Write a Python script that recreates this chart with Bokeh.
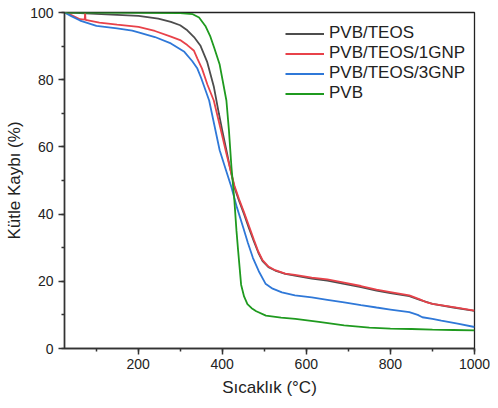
from bokeh.plotting import figure
from bokeh.models import Legend, LegendItem, SingleIntervalTicker, Range1d
from bokeh.embed import file_html
from bokeh.resources import INLINE

# ---- data ----
temp_teos = [25, 50, 100, 150, 201, 248, 278, 300, 317, 333, 348, 364, 380, 392, 400, 410, 420, 429,
             440, 452, 463, 475, 486, 496, 510, 526, 550, 573, 613, 650, 690, 730, 767, 800, 845,
             870, 900, 950, 1000]
pvb_teos = [100, 99.9, 99.6, 99.3, 99.0, 98.2, 97.2, 96.2, 94.7, 92.7, 90.2, 85.4, 78.0, 70.0, 65.0,
            59.0, 53.0, 48.0, 44.0, 40.0, 36.0, 32.0, 28.5, 26.0, 24.2, 23.2, 22.2, 21.7, 20.8, 20.2,
            19.2, 18.3, 17.2, 16.5, 15.6, 14.5, 13.3, 12.2, 11.2]

temp_1gnp = [25, 40, 62, 73, 74, 75, 108, 150, 201, 240, 278, 300, 317, 333, 341, 352, 365, 380, 395,
             410, 420, 429, 440, 452, 465, 475, 486, 496, 510, 526, 550, 573, 613, 650, 690, 730, 767,
             800, 845, 870, 883, 900, 950, 1000]
pvb_teos_1gnp = [100, 99.3, 98.0, 97.9, 99.8, 97.8, 97.0, 96.4, 95.7, 94.5, 92.8, 91.8, 90.3, 88.6,
                 86.3, 83.3, 78.5, 73.8, 66.0, 58.0, 53.0, 48.5, 44.5, 40.5, 36.0, 32.5, 28.8, 26.3,
                 24.4, 23.3, 22.3, 21.9, 21.1, 20.6, 19.6, 18.6, 17.5, 16.8, 15.8, 14.6, 13.9, 13.3,
                 12.3, 11.3]

temp_3gnp = [25, 40, 62, 101, 150, 186, 201, 240, 278, 310, 329, 341, 350, 369, 394, 410, 422, 435,
             450, 461, 473, 487, 503, 520, 542, 573, 613, 650, 690, 730, 767, 800, 845, 865, 876, 900,
             921, 960, 1000]
pvb_teos_3gnp = [100, 99.0, 97.6, 96.0, 95.3, 94.6, 94.1, 92.7, 90.8, 88.3, 85.5, 83.3, 80.5, 73.8,
                 59.0, 52.7, 48.0, 42.0, 36.0, 31.5, 27.0, 23.0, 19.3, 17.8, 16.7, 15.8, 15.2, 14.5,
                 13.7, 12.9, 12.2, 11.6, 10.8, 10.0, 9.3, 8.8, 8.3, 7.4, 6.4]

temp_pvb = [25, 100, 200, 300, 330, 345, 360, 372, 381, 394, 403, 410, 416, 422, 429, 434, 438, 445,
            452, 460, 470, 481, 504, 540, 574, 630, 690, 750, 800, 850, 900, 950, 1000]
pvb = [100, 100, 99.9, 99.8, 99.5, 98.5, 96.0, 92.8, 89.5, 84.5, 78.5, 73.8, 65.0, 54.0, 44.0, 35.0,
       29.0, 19.0, 15.5, 13.2, 12.0, 11.1, 9.8, 9.2, 8.8, 7.9, 6.9, 6.2, 5.9, 5.8, 5.6, 5.5, 5.4]

series_names = ["PVB/TEOS", "PVB/TEOS/1GNP", "PVB/TEOS/3GNP", "PVB"]
series_colors = ["#4d4d4d", "#e8424a", "#2f78d8", "#1f9a1f"]

x_label = "Sıcaklık (°C)"
y_label = "Kütle Kaybı (%)"

FONT = "Liberation Sans"

p = figure(width=490, height=400, output_backend="svg", toolbar_location=None,
           x_range=Range1d(25, 1000), y_range=Range1d(0, 100),
           min_border_left=64, min_border_right=16, min_border_top=12, min_border_bottom=52)

p.grid.visible = False
p.background_fill_color = "white"
p.border_fill_color = "white"
p.outline_line_color = "#222222"
p.outline_line_width = 1.3

xs = [temp_teos, temp_1gnp, temp_3gnp, temp_pvb]
ys = [pvb_teos, pvb_teos_1gnp, pvb_teos_3gnp, pvb]
renderers = []
for x, y, c in zip(xs, ys, series_colors):
    r = p.line(x, y, line_color=c, line_width=1.8)
    renderers.append(r)

p.xaxis.ticker = SingleIntervalTicker(interval=200, num_minor_ticks=2)
p.yaxis.ticker = SingleIntervalTicker(interval=20, num_minor_ticks=2)

for ax in (p.xaxis[0], p.yaxis[0]):
    ax.axis_line_color = "#333333"
    ax.axis_line_width = 1.5
    ax.major_tick_line_color = "#333333"
    ax.major_tick_line_width = 1.5
    ax.minor_tick_line_color = "#333333"
    ax.minor_tick_line_width = 1.5
    ax.major_tick_out = 6
    ax.major_tick_in = 0
    ax.minor_tick_out = 3
    ax.minor_tick_in = 0
    ax.major_label_text_font = FONT
    ax.major_label_text_font_size = "14px"
    ax.major_label_text_color = "#222222"
    ax.axis_label_text_font = FONT
    ax.axis_label_text_font_size = "17px"
    ax.axis_label_text_font_style = "normal"
    ax.axis_label_text_color = "#222222"

p.xaxis.axis_label = x_label
p.yaxis.axis_label = y_label
p.xaxis.major_label_standoff = 4
p.yaxis.major_label_standoff = 5
p.xaxis.axis_label_standoff = 6
p.yaxis.axis_label_standoff = 3

items = [LegendItem(label=n, renderers=[r]) for n, r in zip(series_names, renderers)]
legend = Legend(items=items, location=(221, 245))
legend.padding = 0
legend.margin = 0
legend.spacing = 0
legend.glyph_width = 39
legend.glyph_height = 17
legend.label_height = 17
legend.label_standoff = 5
legend.label_text_font = FONT
legend.label_text_font_size = "17px"
legend.label_text_color = "#222222"
legend.border_line_color = None
legend.background_fill_alpha = 0
p.add_layout(legend, "center")

open("out.html", "w").write(file_html(p, INLINE))
